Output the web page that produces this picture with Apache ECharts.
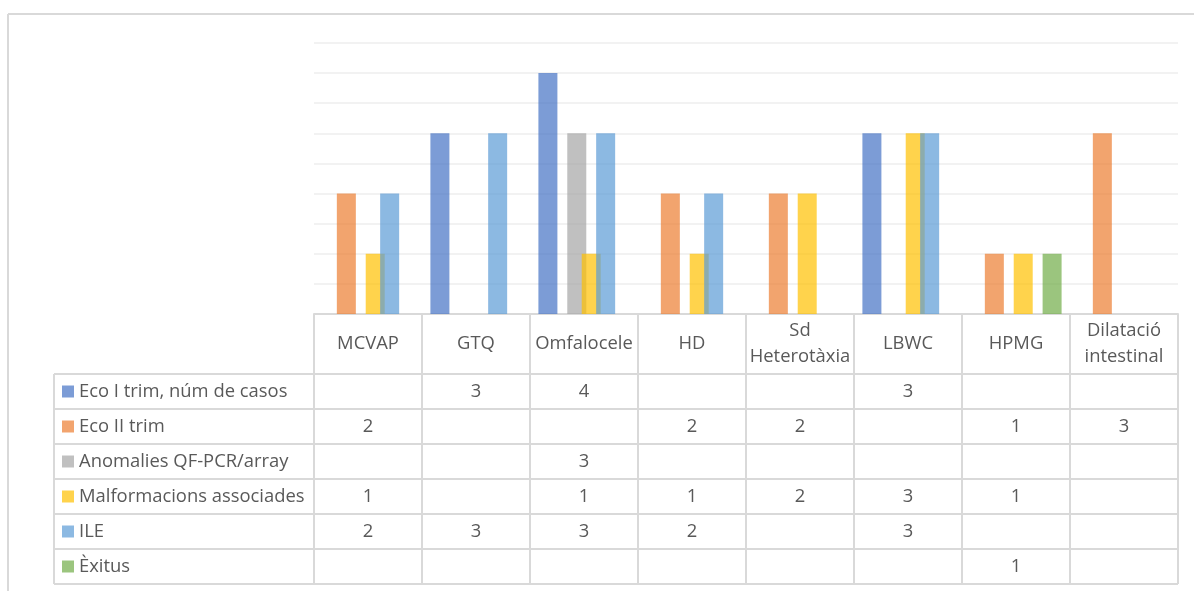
<!DOCTYPE html>
<html>
<head>
<meta charset="utf-8">
<script src="https://cdn.jsdelivr.net/npm/echarts@6/dist/echarts.min.js"></script>
<style>
  html, body { margin: 0; padding: 0; background: #ffffff; }
  #chart { width: 1194px; height: 591px; }
</style>
</head>
<body>
<div id="chart"></div>
<script>
// Categories (diagnoses) and one array of case counts per series
const categories = ['MCVAP', 'GTQ', 'Omfalocele', 'HD', 'Sd\nHeterotàxia', 'LBWC', 'HPMG', 'Dilatació\nintestinal'];
const seriesNames = ['Eco I trim, núm de casos', 'Eco II trim', 'Anomalies QF-PCR/array', 'Malformacions associades', 'ILE', 'Èxitus'];
const ecoI          = [null, 3, 4, null, null, 3, null, null];
const ecoII         = [2, null, null, 2, 2, null, 1, 3];
const anomalies     = [null, null, 3, null, null, null, null, null];
const malformacions = [1, null, 1, 1, 2, 3, 1, null];
const ile           = [2, 3, 3, 2, null, 3, null, null];
const exitus        = [null, null, null, null, null, null, 1, null];

const seriesValues = [ecoI, ecoII, anomalies, malformacions, ile, exitus];
const colors = ['#4472C4', '#ED7D31', '#A5A5A5', '#FFC000', '#5B9BD5', '#70AD47'];

const FONT = '"Open Sans", sans-serif';
const TEXT = '#595959';
const LINE = '#D9D9D9';
const FS = 18.4;

const chart = echarts.init(document.getElementById('chart'), null, { renderer: 'canvas' });

chart.setOption({
  animation: false,
  grid: { left: 314, right: 16, top: 43, bottom: 277 },
  xAxis: {
    type: 'category',
    data: categories,
    axisLine: { lineStyle: { color: LINE, width: 2 } },
    axisTick: { show: false },
    axisLabel: {
      interval: 0, color: TEXT, fontFamily: FONT, fontSize: FS,
      lineHeight: 26, margin: 30, verticalAlign: 'middle', align: 'center'
    }
  },
  yAxis: {
    type: 'value', min: 0, max: 4.5, interval: 0.5,
    axisLabel: { show: false }, axisLine: { show: false }, axisTick: { show: false },
    splitLine: { lineStyle: { color: '#EEEEEE', width: 1.5 } }
  },
  series: seriesNames.map((name, i) => ({
    name: name,
    type: 'bar',
    data: seriesValues[i],
    barWidth: 19,
    barGap: '-24%',
    itemStyle: { color: colors[i], opacity: 0.7 }
  }))
});

// Data table under the plot: one row per series, one column per category
function drawTable() {
  const centers = categories.map(c => chart.convertToPixel({ xAxisIndex: 0 }, c));
  const colW = centers[1] - centers[0];
  const plotLeft = centers[0] - colW / 2;
  const plotRight = centers[centers.length - 1] + colW / 2;
  const axisY = chart.convertToPixel({ yAxisIndex: 0 }, 0);
  const headerH = 60;
  const rowH = 35;
  const tableLeft = 54;
  const rowsTop = axisY + headerH;
  const tableBottom = rowsTop + rowH * seriesNames.length;

  const els = [];
  const line = (x1, y1, x2, y2, color, w) => els.push({
    type: 'line', shape: { x1, y1, x2, y2 },
    style: { stroke: color || LINE, lineWidth: w || 2 }, silent: true
  });

  // chart area frame
  line(8, 14, 1194, 14, '#D9D9D9', 2);
  line(8, 14, 8, 591, '#D9D9D9', 2);

  // column boundaries through the header and body
  for (let i = 0; i <= categories.length; i++) {
    const x = plotLeft + i * colW;
    line(x, axisY, x, tableBottom);
  }
  line(tableLeft, rowsTop, tableLeft, tableBottom);
  // row boundaries
  for (let r = 0; r <= seriesNames.length; r++) {
    const y = rowsTop + r * rowH;
    line(tableLeft, y, plotRight, y);
  }

  seriesNames.forEach((name, r) => {
    const cy = rowsTop + r * rowH + rowH / 2;
    els.push({
      type: 'rect', shape: { x: 62, y: cy - 6, width: 12, height: 12 },
      style: { fill: colors[r], opacity: 0.7 }, silent: true
    });
    els.push({
      type: 'text', x: 79, y: cy,
      style: { text: name, fill: TEXT, font: FS + 'px ' + FONT, verticalAlign: 'middle', align: 'left' },
      silent: true
    });
    seriesValues[r].forEach((v, c) => {
      if (v === null) return;
      els.push({
        type: 'text', x: centers[c], y: cy,
        style: { text: String(v), fill: TEXT, font: FS + 'px ' + FONT, verticalAlign: 'middle', align: 'center' },
        silent: true
      });
    });
  });

  chart.setOption({ graphic: { elements: els } });
}
drawTable();
</script>
</body>
</html>
